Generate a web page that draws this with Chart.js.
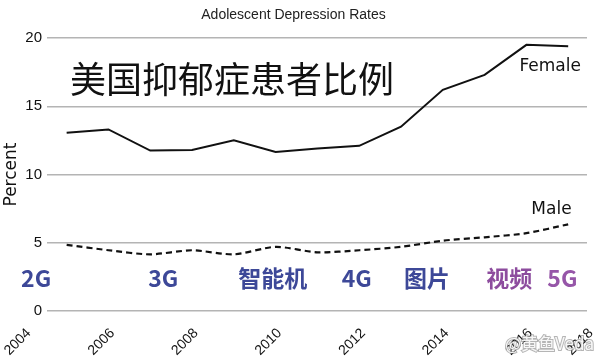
<!DOCTYPE html>
<html>
<head>
<meta charset="utf-8">
<script src="https://cdn.jsdelivr.net/npm/chart.js@4"></script>
<style>
  html, body { margin: 0; padding: 0; background: #fff; }
  #wrap { width: 600px; height: 362px; }
</style>
</head>
<body>
<div id="wrap"><canvas id="myChart"></canvas></div>
<script>
const years = [2005, 2006, 2007, 2008, 2009, 2010, 2011, 2012, 2013, 2014, 2015, 2016, 2017];
const female = [13.05, 13.3, 11.75, 11.8, 12.5, 11.65, 11.9, 12.1, 13.5, 16.2, 17.3, 19.5, 19.4];
const male = [4.85, 4.45, 4.15, 4.45, 4.15, 4.7, 4.3, 4.45, 4.7, 5.15, 5.4, 5.7, 6.35];

const xTickYears = [2004, 2006, 2008, 2010, 2012, 2014, 2016, 2018];
const yTicks = [0, 5, 10, 15, 20];

// labels written next to the lines, anchored in data units
const seriesNames = ["Female", "Male"];
const seriesNameYear = [2016.57, 2016.6];
const seriesNameValue = [17.9, 7.45];

const headline = "美国抑郁症患者比例";
const headlineYear = 2005.08;
const headlineValue = 16.95;

const eraLabels = ["2G", "3G", "智能机", "4G", "图片", "视频", "5G"];
const eraYears = [2004.27, 2007.31, 2009.93, 2011.94, 2013.62, 2015.59, 2016.86];
const eraValue = 2.38;

const watermark = "@黄鱼Veda";

const xMin = 2004.53;
const xMax = 2017.45;

const blue = "#3d4898";
const purple = "#8d4c9e";
const eraColors = [blue, blue, blue, blue, blue, purple, "#9656a8"];

const toPoints = (vals) => years.map((yr, i) => ({ x: yr, y: vals[i] }));

const textPlugin = {
  id: "texts",
  afterDatasetsDraw(chart) {
    const { ctx, scales } = chart;
    const x = scales.x, y = scales.y;
    ctx.save();
    ctx.textBaseline = "middle";

    ctx.fillStyle = "#111";
    ctx.textAlign = "left";
    ctx.font = '36px "Noto Sans CJK SC"';
    ctx.fillText(headline, x.getPixelForValue(headlineYear), y.getPixelForValue(headlineValue));

    ctx.textAlign = "center";
    ctx.font = '17px "DejaVu Sans"';
    seriesNames.forEach((name, i) => {
      ctx.fillText(name, x.getPixelForValue(seriesNameYear[i]), y.getPixelForValue(seriesNameValue[i]));
    });

    ctx.font = 'bold 23px "Noto Sans CJK SC"';
    eraLabels.forEach((lbl, i) => {
      ctx.fillStyle = eraColors[i];
      ctx.fillText(lbl, x.getPixelForValue(eraYears[i]), y.getPixelForValue(eraValue));
    });

    // weibo watermark, bottom right
    ctx.textAlign = "right";
    ctx.font = '17px "Noto Sans CJK SC"';
    ctx.lineWidth = 2;
    ctx.strokeStyle = "rgba(120,120,120,0.55)";
    ctx.strokeText(watermark, 594, 344);
    ctx.fillStyle = "rgba(255,255,255,0.9)";
    ctx.fillText(watermark, 594, 344);
    ctx.restore();
  }
};

const ctx = document.getElementById("myChart");

new Chart(ctx, {
  type: "line",
  data: {
    datasets: [
      {
        label: "Female",
        data: toPoints(female),
        borderColor: "#111",
        borderWidth: 2,
        pointRadius: 0,
        tension: 0,
      },
      {
        label: "Male",
        data: toPoints(male),
        borderColor: "#111",
        borderWidth: 2.2,
        borderDash: [6, 4],
        pointRadius: 0,
        tension: 0.25,
      },
    ],
  },
  options: {
    responsive: true,
    maintainAspectRatio: false,
    animation: false,
    layout: { padding: { left: 0, right: 13, top: 0, bottom: 0 } },
    plugins: {
      legend: { display: false },
      tooltip: { enabled: false },
      title: {
        display: true,
        text: "Adolescent Depression Rates",
        color: "#222",
        font: { family: "Liberation Sans", size: 14, weight: "normal" },
        padding: { top: 7, bottom: 14.2 },
      },
    },
    scales: {
      x: {
        type: "linear",
        min: xMin,
        max: xMax,
        grid: { display: false },
        border: { display: false },
        afterBuildTicks: (scale) => {
          // the last tick is held at the edge so it stays on the canvas
          scale.ticks = xTickYears.map((yr) => ({ value: Math.min(yr, xMax) }));
        },
        afterFit: (scale) => {
          scale.height = 51;
          scale.paddingLeft = 0;
          scale.paddingRight = 0;
        },
        ticks: {
          autoSkip: false,
          minRotation: 45,
          maxRotation: 45,
          padding: 6,
          labelOffset: 4,
          color: "#111",
          font: { family: "Liberation Sans", size: 14 },
          callback: (v, i) => String(xTickYears[i]),
        },
      },
      y: {
        min: 0,
        max: 20,
        afterBuildTicks: (scale) => {
          scale.ticks = yTicks.map((v) => ({ value: v }));
        },
        afterFit: (scale) => {
          scale.width = 47;
          scale.paddingTop = 0;
          scale.paddingBottom = 0;
        },
        grid: { color: "#b4b4b4", lineWidth: 1.5, drawTicks: false },
        border: { display: false },
        ticks: {
          padding: 5,
          color: "#111",
          font: { family: "Liberation Sans", size: 15 },
        },
        title: {
          display: true,
          text: "Percent",
          color: "#111",
          font: { family: "DejaVu Sans", size: 17 },
          padding: { top: 1, bottom: 0 },
        },
      },
    },
  },
  plugins: [textPlugin],
});
</script>
</body>
</html>
